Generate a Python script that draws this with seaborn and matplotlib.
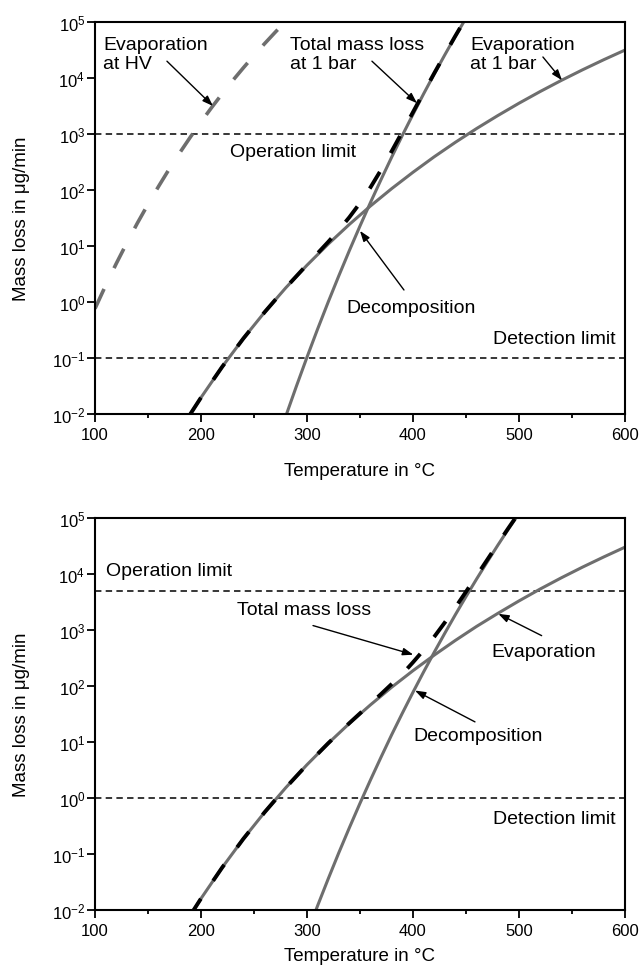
import matplotlib
matplotlib.use("Agg")
import matplotlib.pyplot as plt
from matplotlib.ticker import FixedLocator, FuncFormatter, MultipleLocator, NullLocator
import numpy as np
import seaborn as sns

# ---------------- upper panel: mass loss in ug/min vs temperature in °C ----------------
t_evap_1bar = [190, 200, 220, 240, 260, 280, 300, 320, 340, 360, 380, 400,
               420, 440, 460, 480, 500, 520, 540, 560, 580, 600]
m_evap_1bar = [1.0e-2, 1.96e-2, 6.95e-2, 0.223, 0.656, 1.79, 4.53, 10.8, 24.3,
               52.0, 106, 207, 391, 710, 1250, 2130, 3540, 5730, 9060, 14000,
               21200, 31500]

t_decomp_top = [280, 290, 300, 310, 320, 330, 340, 350, 360, 370, 380, 390,
                400, 410, 420, 430, 440, 450]
m_decomp_top = [9.1e-3, 3.12e-2, 0.103, 0.327, 0.995, 2.92, 8.28, 22.7, 60.3,
                155, 389, 946, 2240, 5190, 11700, 25800, 55700, 117000]

t_total_top = [190, 200, 220, 240, 260, 280, 300, 320, 330, 340, 350, 360, 370,
               380, 390, 400, 410, 420, 430, 440, 450]
m_total_top = [1.0e-2, 1.96e-2, 6.95e-2, 0.223, 0.656, 1.80, 4.63, 11.8, 19.2,
               32.6, 58.4, 112, 230, 495, 1095, 2450, 5480, 12100, 26300,
               56400, 118000]

t_evap_hv = [100, 110, 120, 130, 140, 150, 160, 170, 180, 190, 200, 210, 220,
             230, 240, 250, 260, 270, 275]
m_evap_hv = [0.76, 1.96, 4.82, 11.3, 25.6, 55.5, 116, 236, 462, 881, 1640,
             2960, 5220, 9020, 15200, 25200, 41000, 65500, 82200]

operation_limit_top = 1e3
detection_limit_top = 1e-1

# ---------------- lower panel ----------------
t_evap_bot = [190, 200, 220, 240, 260, 280, 300, 320, 340, 360, 380, 400,
              420, 440, 460, 480, 500, 520, 540, 560, 580, 600]
m_evap_bot = [8.1e-3, 1.6e-2, 5.74e-2, 0.187, 0.556, 1.53, 3.93, 9.46, 21.5,
              46.3, 95.5, 188, 356, 653, 1160, 1980, 3310, 5400, 8570, 13300,
              20200, 30200]

t_decomp_bot = [305, 310, 320, 330, 340, 350, 360, 370, 380, 390, 400, 410,
                420, 430, 440, 450, 460, 470, 480, 490, 500]
m_decomp_bot = [6.7e-3, 1.19e-2, 3.59e-2, 0.105, 0.295, 0.804, 2.12, 5.43,
                13.6, 32.8, 77.3, 178, 399, 875, 1880, 3950, 8130, 16400,
                32600, 63400, 121000]

t_total_bot = [190, 200, 220, 240, 260, 280, 300, 320, 340, 360, 370, 380,
               390, 400, 410, 420, 430, 440, 450, 460, 470, 480, 490, 500]
m_total_bot = [8.1e-3, 1.6e-2, 5.74e-2, 0.187, 0.556, 1.53, 3.93, 9.50, 21.8,
               48.4, 72.2, 109, 164, 265, 438, 755, 1360, 2530, 4820, 9290,
               17900, 34600, 66000, 124000]

operation_limit_bot = 5e3
detection_limit_bot = 1.0

x_ticks = [100, 200, 300, 400, 500, 600]
y_ticks = [1e-2, 1e-1, 1e0, 1e1, 1e2, 1e3, 1e4, 1e5]

# ---------------- style ----------------
sns.set_theme(style="ticks")
plt.rcParams["font.family"] = ["Liberation Sans", "DejaVu Sans"]
plt.rcParams["mathtext.fontset"] = "custom"
plt.rcParams["mathtext.rm"] = "Liberation Sans"
plt.rcParams["mathtext.it"] = "Liberation Sans:italic"
plt.rcParams["mathtext.bf"] = "Liberation Sans:bold"
plt.rcParams["mathtext.default"] = "regular"
for key in ("text.color", "axes.labelcolor", "xtick.color", "ytick.color",
            "axes.edgecolor"):
    plt.rcParams[key] = "black"

GRAY = "#6e6e6e"
LABEL_FS = 14
TICK_FS = 12
AXIS_FS = 13.5

fig = plt.figure(figsize=(6.4, 9.7), dpi=100)
ax_top = fig.add_axes([0.1484, 0.5722, 0.8281, 0.4041])
ax_bot = fig.add_axes([0.1484, 0.0608, 0.8281, 0.4041])


def pow10(v, _pos):
    return r"$10^{%d}$" % int(round(np.log10(v)))


def style_axes(ax, xlabelpad):
    ax.set_yscale("log")
    ax.set_xlim(100, 600)
    ax.set_ylim(1e-2, 1e5)
    ax.xaxis.set_major_locator(FixedLocator(x_ticks))
    ax.xaxis.set_minor_locator(MultipleLocator(50))
    ax.yaxis.set_major_locator(FixedLocator(y_ticks))
    ax.yaxis.set_minor_locator(NullLocator())
    ax.yaxis.set_major_formatter(FuncFormatter(pow10))
    ax.tick_params(axis="both", which="major", direction="out", length=5.5,
                   width=1.3, labelsize=TICK_FS, color="black", labelcolor="black")
    ax.tick_params(axis="x", which="minor", direction="out", length=3,
                   width=1.3, color="black")
    ax.tick_params(axis="x", which="major", pad=4)
    ax.tick_params(axis="y", which="major", pad=1.5)
    for s in ax.spines.values():
        s.set_visible(True)
        s.set_linewidth(1.5)
        s.set_color("black")
    ax.set_xlabel("Temperature in °C", fontsize=AXIS_FS, labelpad=xlabelpad,
                  color="black")
    ax.set_ylabel("Mass loss in μg/min", fontsize=AXIS_FS, labelpad=16,
                  color="black")


def limit_line(ax, value):
    ax.axhline(value, color="black", lw=1.1, linestyle=(0, (4.2, 2.8)), zorder=1)


def arrow(ax, tail, head):
    ax.annotate("", xy=head, xytext=tail, fontsize=LABEL_FS,
                arrowprops=dict(arrowstyle="-|>,head_length=0.45,head_width=0.16",
                                lw=1.0, color="black", shrinkA=0, shrinkB=0),
                zorder=5)


solid_kw = dict(color=GRAY, linewidth=2.2, zorder=2)
total_kw = dict(color="black", linewidth=2.8, linestyle=(0, (5.0, 5.6)), zorder=3)
text_kw = dict(fontsize=LABEL_FS, color="black", va="center")

# ---------------- upper panel ----------------
ax = ax_top
limit_line(ax, operation_limit_top)
limit_line(ax, detection_limit_top)
sns.lineplot(x=t_evap_1bar, y=m_evap_1bar, ax=ax, **solid_kw)
sns.lineplot(x=t_decomp_top, y=m_decomp_top, ax=ax, **solid_kw)
sns.lineplot(x=t_total_top, y=m_total_top, ax=ax, **total_kw)
sns.lineplot(x=t_evap_hv, y=m_evap_hv, ax=ax, color=GRAY, linewidth=2.6,
             linestyle=(0, (6.0, 6.4)), zorder=2)
style_axes(ax, xlabelpad=14)

ax.text(107.5, 10**4.43, "Evaporation\nat HV", ha="left", **text_kw)
ax.text(284, 10**4.43, "Total mass loss\nat 1 bar", ha="left", **text_kw)
ax.text(453.8, 10**4.43, "Evaporation\nat 1 bar", ha="left", **text_kw)
ax.text(227.4, 10**2.68, "Operation limit", ha="left", **text_kw)
ax.text(336.8, 10**-0.09, "Decomposition", ha="left", **text_kw)
ax.text(591.5, 10**-0.66, "Detection limit", ha="right", **text_kw)

arrow(ax, (167.9, 10**4.30), (211.3, 10**3.50))
arrow(ax, (361.3, 10**4.30), (403.8, 10**3.55))
arrow(ax, (522.6, 10**4.375), (540.6, 10**3.96))
arrow(ax, (391.5, 10**0.214), (350.0, 10**1.27))

# ---------------- lower panel ----------------
ax = ax_bot
limit_line(ax, operation_limit_bot)
limit_line(ax, detection_limit_bot)
sns.lineplot(x=t_evap_bot, y=m_evap_bot, ax=ax, **solid_kw)
sns.lineplot(x=t_decomp_bot, y=m_decomp_bot, ax=ax, **solid_kw)
sns.lineplot(x=t_total_bot, y=m_total_bot, ax=ax, **total_kw)
style_axes(ax, xlabelpad=6)

ax.text(110.1, 10**4.06, "Operation limit", ha="left", **text_kw)
ax.text(233.7, 10**3.375, "Total mass loss", ha="left", **text_kw)
ax.text(474.2, 10**2.61, "Evaporation", ha="left", **text_kw)
ax.text(400.0, 10**1.11, "Decomposition", ha="left", **text_kw)
ax.text(591.5, 10**-0.357, "Detection limit", ha="right", **text_kw)

arrow(ax, (305.7, 10**3.08), (400.3, 10**2.56))
arrow(ax, (521.4, 10**2.90), (480.5, 10**3.29))
arrow(ax, (458.5, 10**1.36), (401.9, 10**1.92))

fig.savefig("out.png", dpi=100, facecolor="white")
